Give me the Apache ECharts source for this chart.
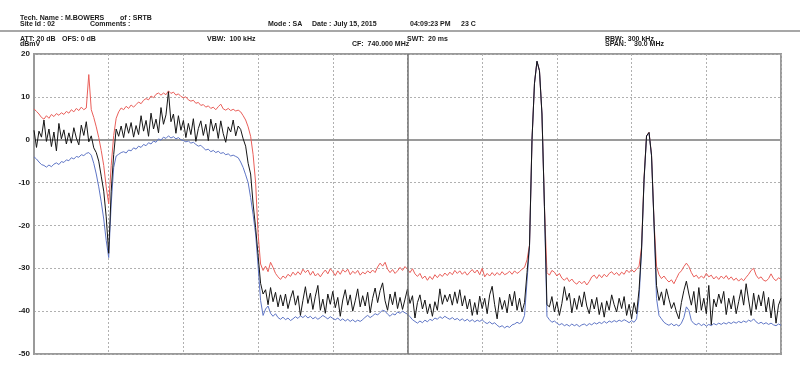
<!DOCTYPE html>
<html>
<head>
<meta charset="utf-8">
<script src="https://cdn.jsdelivr.net/npm/echarts@6/dist/echarts.min.js"></script>
<style>
html,body{margin:0;padding:0;background:#fff;}
#chart{width:800px;height:375px;}
</style>
</head>
<body>
<div id="chart"></div>
<script>
// Frequency axis: offset (MHz) from start, span 30 MHz, CF 740 MHz
const spanMHz = 30;
const stepMHz = 0.1;
const gridStepMHz = 3;
const yTicks = [-50, -40, -30, -20, -10, 0, 10, 20];

// Max hold trace (red), dBmV
const maxHold = [
 7.2, 6.6, 6.0, 5.2, 4.8, 5.6, 5.0, 5.9, 5.4, 6.1,
 5.7, 6.3, 5.9, 6.6, 6.2, 7.0, 6.5, 7.3, 6.8, 7.6,
 7.0, 7.4, 15.2, 7.0, 5.2, 3.0, 0.5, -2.5, -6.0, -11.0,
 -15.0, -6.0, 1.0, 5.0, 6.5, 7.4, 7.0, 7.8, 7.3, 8.1,
 7.6, 8.2, 8.8, 8.4, 9.2, 9.6, 9.3, 10.2, 9.8, 10.6,
 10.9, 10.4, 10.9, 10.5, 11.4, 10.8, 11.1, 10.4, 10.7, 10.1,
 9.8, 10.0, 9.3, 9.0, 9.2, 8.5, 8.7, 8.0, 8.2, 7.6,
 7.9, 7.3, 7.6, 7.0, 7.7, 8.3, 7.2, 6.9, 7.3, 6.8,
 7.1, 6.7, 6.9, 6.5, 5.6, 4.6, 3.0, 0.8, -3.5, -10.0,
 -22.0, -29.0, -30.5, -29.5, -30.8, -28.6, -29.8, -31.2, -32.0, -32.6,
 -31.8, -32.3, -31.4, -31.9, -30.9, -31.6, -30.8, -31.5, -30.2, -31.0,
 -30.4, -31.6, -30.7, -31.8, -31.2, -32.0, -31.1, -30.4, -31.3, -30.1,
 -30.8, -31.7, -30.6, -31.4, -30.3, -30.9, -30.2, -31.5, -30.7, -31.2,
 -30.5, -31.6, -30.9, -31.3, -30.6, -31.1, -30.4, -31.0, -29.7, -28.8,
 -29.5, -28.6, -30.2, -31.0, -30.3, -31.2, -30.6, -29.8, -30.5, -29.6,
 -30.2, -31.0, -30.1, -31.3, -31.9, -31.2, -32.4, -31.8, -32.8, -31.9,
 -32.6, -31.5, -32.2, -31.4, -31.9, -31.1, -31.7, -30.9, -31.5, -30.5,
 -31.2, -30.6, -31.4, -30.8, -31.6, -30.9, -30.3, -31.1, -30.4, -31.5,
 -30.0, -32.0, -31.2, -31.8, -31.0, -31.7, -31.0, -31.6, -30.8, -31.5,
 -31.2, -30.7, -31.4, -30.6, -31.2, -30.8, -30.2, -29.8, -28.0, -24.6,
 0.0, 13.2, 18.3, 16.1, 6.0, -15.5, -31.0, -31.6, -30.5, -30.9,
 -31.8, -31.2, -32.3, -32.8, -32.2, -33.1, -32.5, -33.3, -33.7, -33.0,
 -33.6, -33.0, -33.9, -33.1, -32.0, -31.6, -32.4, -31.5, -32.2, -31.4,
 -32.0, -31.2, -30.8, -31.5, -31.0, -31.7, -30.9, -31.4, -30.4, -31.0,
 -30.3, -30.9, -30.2, -29.5, -25.0, -9.0, 0.9, 1.7, -3.5, -19.0,
 -29.5, -31.5, -32.4, -31.8, -32.6, -33.2, -32.7, -33.6, -32.4, -31.2,
 -30.6, -29.6, -28.8, -29.6, -31.0, -32.0, -31.6, -32.4, -31.8, -32.3,
 -31.2, -32.0, -31.6, -32.5, -31.9, -32.6, -31.8, -32.4, -31.7, -32.6,
 -32.0, -32.8, -32.3, -33.0, -32.4, -32.9, -32.1, -31.4, -30.5, -30.0,
 -31.6, -32.4, -32.0, -32.8, -33.0, -32.4, -31.3, -32.4, -32.9, -32.2,
 -32.6
];

// Min hold trace (blue), dBmV
const minHold = [
 -4.0, -4.5, -5.2, -5.8, -6.0, -6.4, -5.9, -6.3, -5.7, -5.4,
 -5.8, -5.1, -5.3, -4.7, -4.9, -4.2, -4.5, -3.9, -4.1, -3.5,
 -3.7, -3.2, -3.0, -3.6, -5.5, -8.0, -11.0, -14.5, -18.5, -23.5,
 -27.5, -15.0, -6.5, -3.8, -3.4, -3.0, -2.8, -3.1, -2.4, -2.6,
 -1.9, -2.2, -1.5, -1.8, -1.1, -1.4, -0.7, -1.0, -0.3, -0.6,
 0.2, -0.1, 0.6, 0.3, 0.9, 0.4, 0.7, 0.2, 0.5, 0.0,
 -0.2, -0.5, -0.3, -0.8, -0.6, -1.1, -1.5, -1.3, -1.9, -2.4,
 -2.2, -2.8, -2.5, -3.0, -2.7, -3.2, -3.0, -3.5, -3.3, -3.8,
 -3.6, -3.9, -4.2, -5.2, -6.5, -8.2, -10.0, -13.5, -17.5, -22.0,
 -29.5, -37.5, -41.0, -39.5, -38.8, -40.5, -41.2, -40.6, -41.5, -41.9,
 -41.4, -42.0, -41.6, -42.2, -41.8, -41.3, -41.7, -41.1, -41.5, -41.0,
 -41.6, -41.2, -41.8, -41.4, -41.9, -41.5, -41.0, -41.4, -41.8, -41.3,
 -41.7, -42.0, -41.6, -42.2, -41.8, -42.3, -41.9, -42.4, -42.0, -42.5,
 -42.1, -42.4, -42.0, -41.4, -41.0, -41.5, -41.1, -40.6, -40.9, -40.3,
 -39.8, -40.0, -40.7, -41.2, -40.6, -40.9, -40.2, -40.5, -40.0, -40.4,
 -40.7, -41.3, -42.0, -42.4, -42.8, -42.3, -42.7, -42.1, -42.5, -41.9,
 -42.2, -41.6, -41.9, -41.3, -41.7, -41.2, -41.6, -41.9, -41.5, -42.0,
 -41.7, -42.2, -41.8, -42.3, -41.9, -42.4, -42.0, -42.5, -42.1, -42.4,
 -42.0, -42.6, -42.9, -42.5, -43.0, -42.7, -43.3, -43.7, -43.4, -43.9,
 -43.5, -43.8, -43.2, -43.0, -42.6, -42.9, -42.5, -41.0, -33.0, -25.0,
 0.0, 13.2, 18.3, 16.1, 6.0, -16.0, -41.2, -42.0, -42.6, -42.3,
 -42.8, -43.2, -42.9, -43.4, -43.1, -43.5, -43.0, -43.4, -43.1, -43.6,
 -43.2, -43.0, -43.4, -42.9, -43.2, -42.7, -43.0, -42.6, -42.9, -42.4,
 -42.8, -42.3, -42.6, -42.2, -42.5, -42.1, -42.4, -42.0, -42.3, -42.7,
 -42.2, -42.6, -41.8, -37.0, -26.0, -9.5, 0.8, 1.6, -3.8, -19.5,
 -37.0, -41.0, -41.8, -42.6, -43.0, -43.3, -42.9, -43.4, -43.1, -43.5,
 -42.8, -41.5, -39.0, -39.8, -42.2, -42.9, -43.2, -42.8, -43.4, -43.0,
 -43.5, -43.1, -43.4, -42.9, -43.2, -42.8, -43.1, -42.7, -43.0, -42.6,
 -42.9, -42.5, -42.8, -42.4, -42.7, -42.3, -42.6, -42.1, -42.4, -41.8,
 -42.5, -42.9, -42.6, -43.0, -42.7, -43.1, -42.8, -43.2, -43.4, -43.0,
 -43.3
];

// Current trace (black), dBmV
const current = [
 2.2, -1.8, 2.0, 0.6, 4.6, -0.4, 2.5, -1.6, 1.8, -2.6,
 3.8, 0.2, 2.3, -1.0, 1.6, -0.8, 2.8, 0.4, -1.2, 3.4,
 1.0, 4.2, -0.5, 0.9, -1.9, -3.0, -5.0, -8.5, -12.0, -18.0,
 -26.5, -12.0, -3.5, 2.5, 0.8, 3.2, 0.5, 3.8, 1.5, 4.0,
 0.6, 3.3, 1.2, 5.6, 2.0, 4.5, 0.8, 6.2, 2.5, 4.8,
 1.6, 7.5, 3.6, 5.8, 11.2, 4.2, 6.0, 1.5, 5.6, 2.2,
 4.5, 0.5, 3.8, 1.2, 4.9, -0.4, 2.6, 4.4, 1.0, 3.6,
 -0.2, 4.8, 2.0, 3.9, 0.3, 4.4, 1.4, -0.6, 3.0, 1.8,
 4.6, 0.9, 3.2, 2.4, 0.2, -1.5, -5.5, -8.0, -15.0, -20.5,
 -27.0, -33.5, -36.0, -35.0, -38.5, -34.5, -37.8, -35.6, -39.0, -36.2,
 -38.8, -36.0, -39.4, -37.0, -35.2, -38.6, -36.4, -41.0, -37.5, -34.3,
 -38.2, -35.8, -39.6, -36.5, -34.0, -39.8, -37.2, -40.5, -36.0, -38.4,
 -35.4, -39.2, -36.8, -41.2, -37.4, -35.0, -38.6, -36.2, -40.0, -37.6,
 -34.8, -39.0, -36.4, -38.8, -35.6, -40.4, -37.0, -34.6, -38.0, -35.2,
 -33.4, -37.6, -39.8, -36.0, -38.5, -35.5, -39.4, -36.8, -39.6, -37.2,
 -34.8, -38.2, -36.4, -41.6, -38.0, -36.2, -39.5, -37.4, -40.6, -38.3,
 -41.2, -37.8, -39.8, -34.8, -38.4, -36.2, -37.8, -36.0, -38.6, -35.5,
 -38.2, -35.0, -38.8, -36.4, -39.5, -37.2, -41.0, -38.0, -40.8, -36.5,
 -39.4, -37.0, -40.6, -36.2, -34.2, -38.5, -41.8, -36.8, -39.6, -37.5,
 -40.4, -36.0, -38.8, -35.4, -39.8, -37.0, -40.2, -38.0, -31.0, -24.6,
 0.0, 13.2, 18.3, 16.1, 6.0, -15.5, -38.5, -39.0, -36.6, -40.2,
 -37.8, -41.0, -38.2, -34.3, -37.5, -35.8, -40.4, -37.0, -39.6, -36.4,
 -39.0, -35.5, -38.8, -40.6, -37.2, -39.5, -36.8, -40.8, -38.0, -41.4,
 -37.6, -39.8, -36.2, -38.5, -40.2, -37.0, -39.4, -36.6, -41.0, -38.4,
 -41.8, -38.0, -40.6, -35.0, -25.5, -9.2, 0.9, 1.7, -3.6, -19.2,
 -34.0, -37.5, -35.5, -38.6, -34.8, -37.2, -39.4, -38.0, -40.2, -41.8,
 -38.0, -35.2, -33.0, -36.0, -38.6, -35.4, -40.4, -34.5, -39.8, -37.0,
 -40.6, -34.0, -43.2, -37.2, -39.0, -36.0, -38.2, -35.4, -40.8, -37.0,
 -39.5, -36.4, -40.6, -37.8, -35.0, -38.6, -33.6, -37.4, -41.0, -35.8,
 -39.6, -36.2, -38.8, -35.4, -40.2, -36.8, -41.6, -37.2, -42.8, -38.6,
 -37.0
];

const headerTexts = [
  ['Tech. Name : M.BOWERS', 20, 18.5],
  ['of : SRTB', 120, 18.5],
  ['Site Id : 02', 20, 24],
  ['Comments :', 90, 24],
  ['Mode : SA', 268, 24],
  ['Date : July 15, 2015', 312, 24],
  ['04:09:23 PM', 410, 24],
  ['23 C', 461, 24],
  ['ATT: 20 dB', 20, 38.8],
  ['OFS: 0 dB', 62, 38.8],
  ['VBW:  100 kHz', 207, 38.8],
  ['SWT:  20 ms', 407, 38.8],
  ['RBW:  300 kHz', 605, 38.8],
  ['dBmV', 20, 44.5],
  ['CF:  740.000 MHz', 352, 44.5],
  ['SPAN:    30.0 MHz', 605, 44.5]
];

const toPairs = arr => arr.map((v, i) => [+(i * stepMHz).toFixed(2), v]);

const chart = echarts.init(document.getElementById('chart'), null, {renderer: 'canvas'});

const graphics = headerTexts.map(t => ({
  type: 'text', x: t[1], y: t[2], silent: true,
  style: {text: t[0], fill: '#1a1a1a', font: 'bold 7px "Liberation Sans", Arial, sans-serif', verticalAlign: 'middle', align: 'left'}
}));
graphics.push({type: 'line', silent: true, shape: {x1: 0, y1: 31, x2: 800, y2: 31}, style: {stroke: '#8a8a8a', lineWidth: 1.5}});

chart.setOption({
  animation: false,
  backgroundColor: '#ffffff',
  grid: {left: 34, right: 19, top: 54, bottom: 21, show: true, borderColor: '#9a9a9a', borderWidth: 2, backgroundColor: 'transparent'},
  xAxis: {
    type: 'value', min: 0, max: spanMHz, interval: gridStepMHz,
    axisLine: {show: true, lineStyle: {color: '#9a9a9a', width: 2}},
    axisTick: {show: false}, axisLabel: {show: false},
    splitLine: {show: true, lineStyle: {color: '#b0b0b0', type: [2, 2], width: 1}}
  },
  yAxis: {
    type: 'value', min: yTicks[0], max: yTicks[yTicks.length - 1], interval: 10,
    axisLine: {show: true, lineStyle: {color: '#9a9a9a', width: 2}},
    axisTick: {show: false},
    axisLabel: {color: '#1a1a1a', fontSize: 8, fontWeight: 'bold', fontFamily: '"Liberation Sans", Arial, sans-serif', margin: 4},
    splitLine: {show: true, lineStyle: {color: '#b0b0b0', type: [2, 2], width: 1}}
  },
  series: [
    {name: 'Max', type: 'line', data: toPairs(maxHold), showSymbol: false, lineStyle: {color: '#ea5f5a', width: 1}, z: 2,
     markLine: {silent: true, symbol: 'none', label: {show: false}, lineStyle: {color: '#707070', width: 1.5, type: 'solid'}, data: [{xAxis: spanMHz / 2}]}},
    {name: 'Min', type: 'line', data: toPairs(minHold), showSymbol: false, lineStyle: {color: '#5f76c6', width: 1}, z: 3},
    {name: 'Current', type: 'line', data: toPairs(current), showSymbol: false, lineStyle: {color: '#151515', width: 1}, z: 4}
  ],
  graphic: graphics
});
</script>
</body>
</html>
